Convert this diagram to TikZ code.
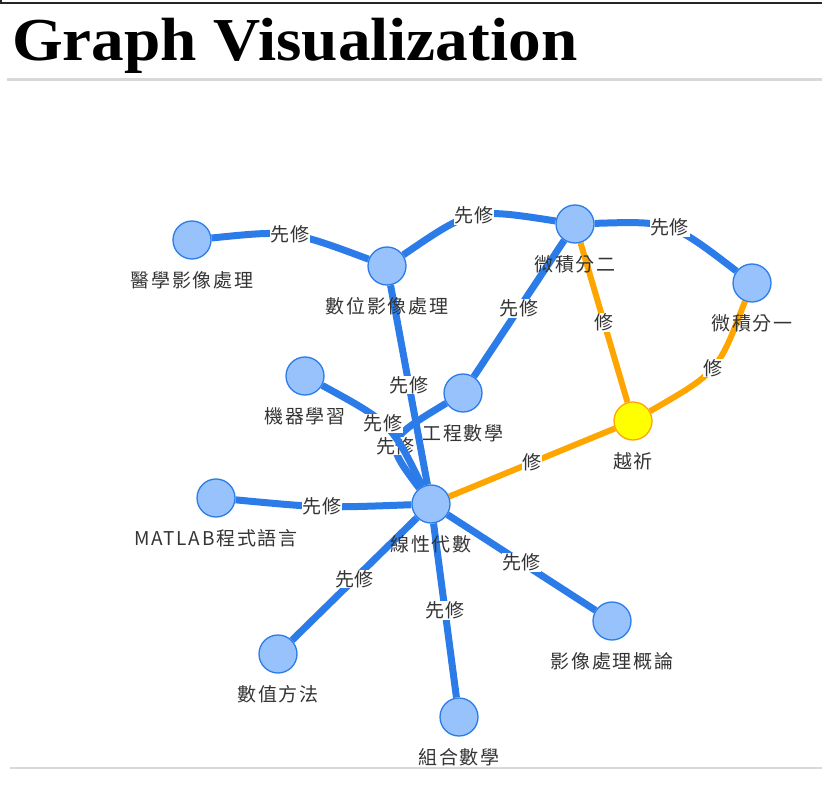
\documentclass[tikz,border=0pt]{standalone}
\usepackage{fontspec}
\usepackage{tikz}
\usetikzlibrary{backgrounds}
\newfontfamily\cjkfont[LetterSpace=9]{Noto Sans CJK TC}
\newfontfamily\cjkedge[LetterSpace=4]{Noto Sans CJK TC}
\newfontfamily\titlefont{Liberation Serif}
\definecolor{colNode}  {HTML}{97C2FC}
\definecolor{colBorder}{HTML}{2B7CE9}
\definecolor{colEdge}  {HTML}{2B7CE9}
\definecolor{colReq}   {HTML}{FFA500}
\definecolor{colHot}   {HTML}{FFFF00}
\definecolor{colText}  {HTML}{343434}
\definecolor{colRule}  {HTML}{D8D8D8}
\tikzset{
  %% course node
  crs/.style={
    circle, draw=colBorder, fill=colNode, line width=1.3pt,
    minimum size=38pt, inner sep=0pt
  },
  %% highlighted course
  hot/.style={crs, fill=colHot, draw=colReq},
  %% course name under the circle
  lab/.style={font=\cjkfont\fontsize{19}{20}\selectfont,
              text=colText, inner sep=0pt, label distance=12pt},
  %% prerequisite edge
  pre/.style={draw=colEdge, line width=7pt},
  %% required edge
  req/.style={draw=colReq, line width=6pt},
  %% edge label
  elab/.style={font=\cjkedge\fontsize{19}{20}\selectfont, text=colText,
               fill=white, inner sep=0.5pt}
}

\begin{document}
\begin{tikzpicture}[x=1pt, y=-1pt]
\useasboundingbox (0,0) rectangle (822,794);

% ----- page header -----
\draw[line width=2pt, black!85] (0,3) -- (822,3);
\draw[line width=1.5pt, black!85] (1,0) -- (1,4);
\node[anchor=base west, inner sep=0pt,
      font=\titlefont\bfseries\fontsize{61}{68}\selectfont] (title)
     at (12,61) {\scalebox{1.07}[1]{Graph Visualization}};
\draw[line width=3pt, colRule] (7,80) -- (822,80);
\draw[line width=2pt, colRule] (10,768) -- (822,768);

% ----- courses -----
\node[crs, label={[lab]below:醫學影像處理}]   (med)  at (192,240) {};
\node[crs, label={[lab]below:數位影像處理}]   (dip)  at (387,266) {};
\node[crs, label={[lab]below:微積分二}]       (calb) at (575,224) {};
\node[crs, label={[lab]below:微積分一}]       (cala) at (752,283) {};
\node[crs, label={[lab]below:機器學習}]       (ml)   at (305,376) {};
\node[crs, label={[lab]below:工程數學}]       (eng)  at (463,393) {};
\node[hot, label={[lab]below:越祈}]           (yue)  at (633,421) {};
\node[crs, label={[lab]below:MATLAB程式語言}] (mat)  at (216,498) {};
\node[crs, label={[lab]below:線性代數}]       (lin)  at (431,504) {};
\node[crs, label={[lab]below:數值方法}]       (num)  at (278,654) {};
\node[crs, label={[lab]below:組合數學}]       (com)  at (459,717) {};
\node[crs, label={[lab]below:影像處理概論}]   (ipi)  at (612,621) {};

% ----- edges -----
\begin{scope}[on background layer]
  \draw[pre] (med) .. controls (290,230) .. node[elab]{先修} (dip);
  \draw[pre] (dip) .. controls (472,208) .. node[elab]{先修} (calb);
  \draw[pre] (calb) .. controls (671,221) .. node[elab]{先修} (cala);
  \draw[pre] (calb) -- node[elab]{先修} (eng);
  \draw[pre] (eng) .. controls (384,441) .. node[elab, pos=0.56]{先修} (lin);
  \draw[pre] (ml) .. controls (391,423) .. node[elab, pos=0.46]{先修} (lin);
  \draw[pre] (dip) -- node[elab]{先修} (lin);
  \draw[pre] (mat) .. controls (322,508) .. node[elab]{先修} (lin);
  \draw[pre] (lin) -- node[elab]{先修} (num);
  \draw[pre] (lin) -- node[elab]{先修} (com);
  \draw[pre] (lin) -- node[elab]{先修} (ipi);

  \draw[req] (calb) -- node[elab]{修} (yue);
  \draw[req] (cala) .. controls (718,372) .. node[elab]{修} (yue);
  \draw[req] (yue) -- node[elab]{修} (lin);
\end{scope}

\end{tikzpicture}
\end{document}
